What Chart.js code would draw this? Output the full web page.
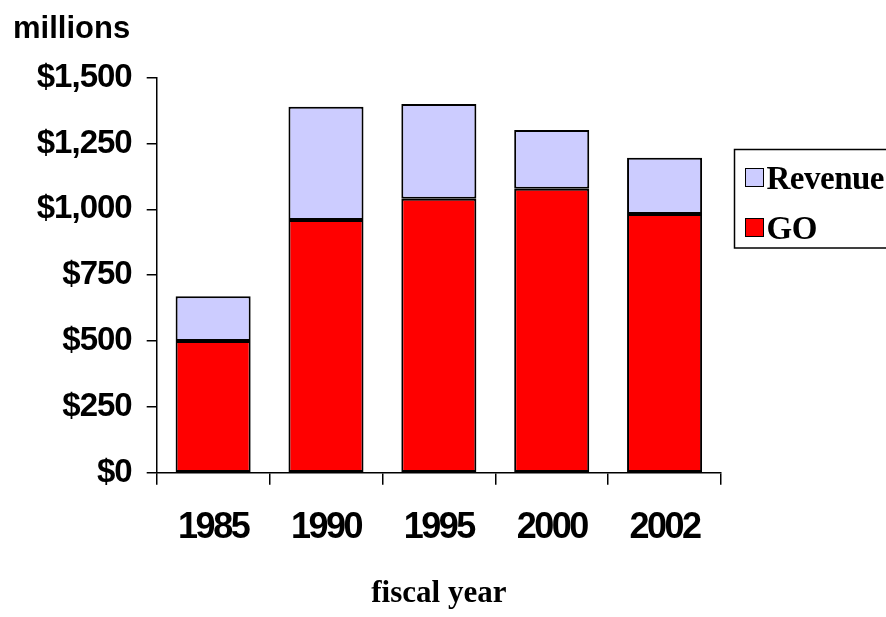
<!DOCTYPE html>
<html>
<head>
<meta charset="utf-8">
<style>
  html, body { margin: 0; padding: 0; background: #ffffff; }
  #wrap { width: 886px; height: 617px; position: relative; }
</style>
<script src="https://cdn.jsdelivr.net/npm/chart.js@4.4.1/dist/chart.umd.min.js"></script>
</head>
<body>
<div id="wrap"><canvas id="chart" width="886" height="617"></canvas></div>
<script>
// Debt outstanding by fiscal year, in millions of dollars
const years = ['1985', '1990', '1995', '2000', '2002'];
const goValues = [500, 960, 1040, 1078, 982];
const revenueValues = [170, 430, 360, 223, 214];
const yTicks = [0, 250, 500, 750, 1000, 1250, 1500];

const sansBold = (size) => ({ family: '"Liberation Sans", Arial, sans-serif', size: size, weight: 'bold' });
const serifBold = (size) => ({ family: '"Liberation Serif", "Times New Roman", serif', size: size, weight: 'bold' });

function money(v) {
  return '$' + Number(v).toLocaleString('en-US');
}

// Tighter letter spacing for the axis tick labels
const labelSpacing = {
  id: 'labelSpacing',
  afterLayout(chart) {
    const spacing = { x: '-2.5px', y: '-1px' };
    Object.keys(spacing).forEach((id) => {
      const scale = chart.scales[id];
      if (!scale || scale._spacingPatched) return;
      const draw = scale.drawLabels.bind(scale);
      scale.drawLabels = function (area) {
        const c = this.ctx;
        c.save();
        c.letterSpacing = spacing[id];
        draw(area);
        c.restore();
      };
      scale._spacingPatched = true;
    });
  }
};

// Boxed legend to the right of the plot, Revenue listed above GO
const boxedLegend = {
  id: 'boxedLegend',
  afterDraw(chart) {
    const ctx = chart.ctx;
    const area = chart.chartArea;
    const left = area.right + 13.5;
    const top = 149.5;
    const bottom = 248;
    ctx.save();
    ctx.strokeStyle = '#000';
    ctx.lineWidth = 1.5;
    ctx.strokeRect(left, top, chart.width - left + 10, bottom - top);
    const items = chart.data.datasets.slice().reverse();
    ctx.font = 'bold 33px "Liberation Serif", "Times New Roman", serif';
    ctx.textBaseline = 'alphabetic';
    ctx.textAlign = 'left';
    ctx.letterSpacing = '-0.5px';
    items.forEach((ds, i) => {
      const sy = 168.5 + i * 50;
      ctx.fillStyle = ds.backgroundColor;
      ctx.fillRect(left + 11, sy, 18, 18);
      ctx.lineWidth = 1;
      ctx.strokeStyle = '#000';
      ctx.strokeRect(left + 11, sy, 18, 18);
      ctx.fillStyle = '#000';
      ctx.fillText(ds.label, left + 32, sy + 20);
    });
    ctx.restore();
  }
};

new Chart(document.getElementById('chart'), {
  type: 'bar',
  data: {
    labels: years,
    datasets: [
      {
        label: 'GO',
        data: goValues,
        backgroundColor: '#FF0000',
        borderColor: '#000000',
        borderWidth: 2,
        borderSkipped: false,
        barPercentage: 0.665,
        categoryPercentage: 1.0
      },
      {
        label: 'Revenue',
        data: revenueValues,
        backgroundColor: '#CCCCFF',
        borderColor: '#000000',
        borderWidth: 2,
        borderSkipped: false,
        barPercentage: 0.665,
        categoryPercentage: 1.0
      }
    ]
  },
  options: {
    responsive: false,
    animation: false,
    devicePixelRatio: 1,
    layout: { padding: { left: 13, right: 165, top: 0, bottom: 0 } },
    plugins: {
      legend: { display: false },
      tooltip: { enabled: false },
      title: {
        display: true,
        text: 'millions',
        align: 'start',
        color: '#000',
        font: sansBold(31),
        padding: { top: 11, bottom: 29.5 }
      }
    },
    scales: {
      x: {
        stacked: true,
        offset: true,
        afterFit(scale) {
          scale.height = 144.3;
        },
        grid: {
          display: true,
          offset: true,
          drawOnChartArea: false,
          drawTicks: true,
          tickLength: 12,
          color: '#000',
          lineWidth: 1.5
        },
        border: { display: true, color: '#000', width: 1.5 },
        ticks: {
          color: '#000',
          font: sansBold(36),
          padding: 22,
          maxRotation: 0,
          autoSkip: false
        },
        title: {
          display: true,
          text: 'fiscal year',
          color: '#000',
          font: serifBold(31),
          padding: { top: 10, bottom: 4 }
        }
      },
      y: {
        stacked: true,
        min: 0,
        max: 1500,
        afterBuildTicks(scale) {
          scale.ticks = yTicks.map(v => ({ value: v }));
        },
        afterFit(scale) {
          scale.width = 143.7;
        },
        grid: {
          display: true,
          drawOnChartArea: false,
          drawTicks: true,
          tickLength: 10,
          color: '#000',
          lineWidth: 1.5
        },
        border: { display: true, color: '#000', width: 1.5 },
        ticks: {
          color: '#000',
          font: sansBold(33),
          padding: 15,
          callback: (v) => money(v)
        }
      }
    }
  },
  plugins: [labelSpacing, boxedLegend]
});
</script>
</body>
</html>
